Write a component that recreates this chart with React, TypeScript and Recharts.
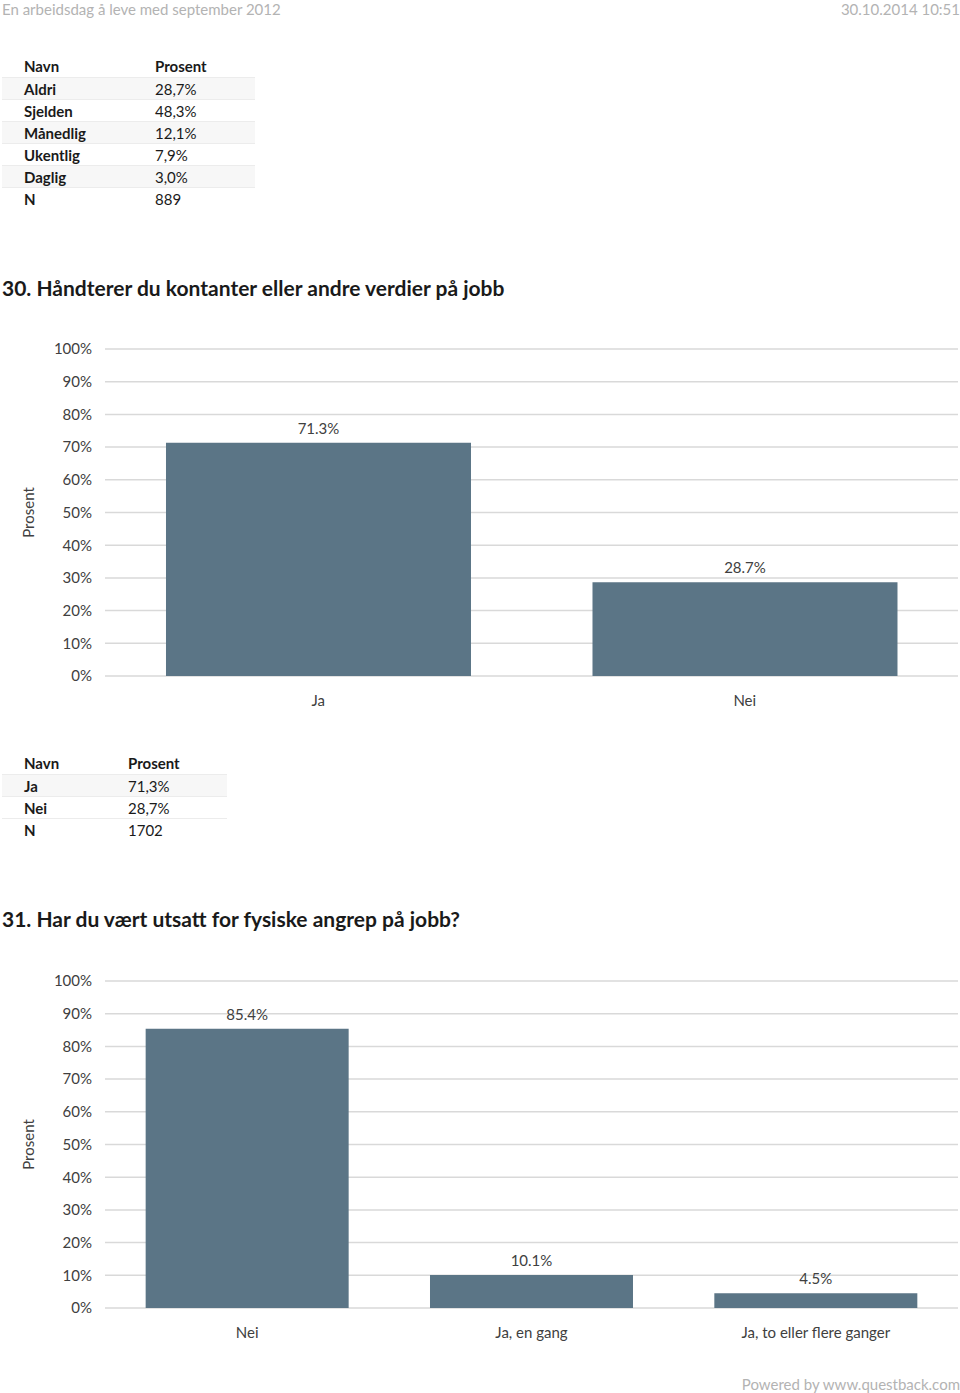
import React from "react";
import { BarChart, Bar, XAxis, YAxis, CartesianGrid, LabelList } from "recharts";

const firstNames = ["Aldri", "Sjelden", "Månedlig", "Ukentlig", "Daglig"];
const firstValues = ["28,7%", "48,3%", "12,1%", "7,9%", "3,0%"];
const firstN = "889";

const q30Categories = ["Ja", "Nei"];
const q30Values = [71.3, 28.7];
const q30Table = ["71,3%", "28,7%"];
const q30N = "1702";

const q31Categories = ["Nei", "Ja, en gang", "Ja, to eller flere ganger"];
const q31Values = [85.4, 10.1, 4.5];

const yTicks = [0, 10, 20, 30, 40, 50, 60, 70, 80, 90, 100];

const FONT = "Lato, 'Open Sans', sans-serif";
const BAR = "#5b7586";
const TEXT = "#404040";

function ResultTable({ top, names, values, n, col2, width }: { top: number; names: string[]; values: string[]; n: string; col2: number; width: number }) {
  const rows = [...names.map((nm, i) => [nm, values[i]]), ["N", n]];
  const rowStyle = (i: number): React.CSSProperties => ({
    position: "absolute",
    left: 2,
    top: 22 * (i + 1),
    width: width - 2,
    height: 22,
    lineHeight: "22px",
    background: i % 2 === 0 && i < rows.length - 1 ? "#f7f7f7" : "transparent",
    borderTop: "1px solid #ececec",
    boxSizing: "border-box",
  });
  return (
    <div style={{ position: "absolute", left: 0, top, width, fontSize: 15, color: "#1a1a1a" }}>
      <div style={{ position: "absolute", left: 0, top: 0, height: 22, lineHeight: "22px", width }}>
        <span style={{ position: "absolute", left: 24, fontWeight: 700 }}>Navn</span>
        <span style={{ position: "absolute", left: col2, fontWeight: 700 }}>Prosent</span>
      </div>
      {rows.map((r, i) => (
        <div key={r[0]} style={rowStyle(i)}>
          <span style={{ position: "absolute", left: 22, fontWeight: 700 }}>{r[0]}</span>
          <span style={{ position: "absolute", left: col2 - 2 }}>{r[1]}</span>
        </div>
      ))}
    </div>
  );
}

function ProsentLabel(props: any) {
  const vb = props.viewBox || {};
  const cy = (vb.y || 0) + (vb.height || 0) / 2;
  return (
    <text x={28} y={cy} transform={`rotate(-90, 28, ${cy})`} textAnchor="middle" dominantBaseline="central" fill={TEXT} fontSize={15} fontFamily={FONT}>
      Prosent
    </text>
  );
}

function PercentChart({ top, categories, values }: { top: number; categories: string[]; values: number[] }) {
  const data = categories.map((c, i) => ({ name: c, value: values[i] }));
  return (
    <div style={{ position: "absolute", left: 0, top }}>
      <BarChart width={960} height={390} data={data} margin={{ top: 18, right: 2, left: 0, bottom: 15 }} barCategoryGap="14.3%">
        <CartesianGrid horizontal vertical={false} stroke="#d9d9d9" strokeWidth={1.5} />
        <XAxis
          dataKey="name"
          axisLine={false}
          tickLine={false}
          tickSize={0}
          tickMargin={19}
          height={30}
          tick={{ fill: TEXT, fontSize: 15, fontFamily: FONT }}
        />
        <YAxis
          domain={[0, 100]}
          ticks={yTicks}
          width={105}
          axisLine={false}
          tickLine={false}
          tickSize={0}
          tickMargin={13}
          interval={0}
          tick={{ fill: TEXT, fontSize: 15, fontFamily: FONT }}
          tickFormatter={(v: any) => `${v}%`}
          label={{ content: ProsentLabel } as any}
        />
        <Bar dataKey="value" fill={BAR} isAnimationActive={false}>
          <LabelList
            dataKey="value"
            position="top"
            offset={9}
            fill={TEXT}
            fontSize={15}
            fontFamily={FONT}
            formatter={(v: any) => `${Number(v).toFixed(1)}%`}
          />
        </Bar>
      </BarChart>
    </div>
  );
}

export default function App() {
  return (
    <div style={{ position: "absolute", left: 0, top: 0, width: 960, height: 1393, background: "#fff", fontFamily: FONT, overflow: "hidden" }}>
      <div style={{ position: "absolute", left: 2, top: 0, fontSize: 15, lineHeight: "18px", color: "#b3b3b3" }}>
        En arbeidsdag å leve med september 2012
      </div>
      <div style={{ position: "absolute", right: 0, top: 0, fontSize: 15, lineHeight: "18px", color: "#b3b3b3" }}>
        30.10.2014 10:51
      </div>

      <ResultTable top={55} names={firstNames} values={firstValues} n={firstN} col2={155} width={255} />

      <div style={{ position: "absolute", left: 2, top: 276, fontSize: 21, lineHeight: "24px", fontWeight: 700, color: "#1a1a1a" }}>
        30. Håndterer du kontanter eller andre verdier på jobb
      </div>
      <PercentChart top={331} categories={q30Categories} values={q30Values} />

      <ResultTable top={752} names={q30Categories} values={q30Table} n={q30N} col2={128} width={227} />

      <div style={{ position: "absolute", left: 2, top: 907, fontSize: 21, lineHeight: "24px", fontWeight: 700, color: "#1a1a1a" }}>
        31. Har du vært utsatt for fysiske angrep på jobb?
      </div>
      <PercentChart top={963} categories={q31Categories} values={q31Values} />

      <div style={{ position: "absolute", right: 0, top: 1375, fontSize: 15, lineHeight: "18px", color: "#b3b3b3" }}>
        Powered by www.questback.com
      </div>
    </div>
  );
}
